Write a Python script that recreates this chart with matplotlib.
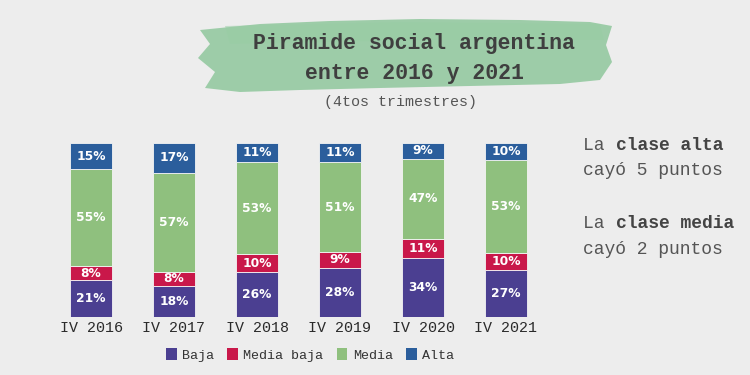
import matplotlib
matplotlib.use("Agg")
import matplotlib.pyplot as plt
from matplotlib.patches import Polygon, Patch
import numpy as np

categories = ["IV 2016", "IV 2017", "IV 2018", "IV 2019", "IV 2020", "IV 2021"]
baja = [21, 18, 26, 28, 34, 27]
media_baja = [8, 8, 10, 9, 11, 10]
media = [55, 57, 53, 51, 47, 53]
alta = [15, 17, 11, 11, 9, 10]
series_names = ["Baja", "Media baja", "Media", "Alta"]
colors = ["#4b3f91", "#c9184a", "#8fc07e", "#2b5e9c"]

mono = "Liberation Mono"
bg = "#ededed"

fig = plt.figure(figsize=(7.5, 3.75), dpi=100)
fig.patch.set_facecolor(bg)

# Brush stroke behind title
bax = fig.add_axes([0, 0, 1, 1])
bax.set_xlim(0, 750)
bax.set_ylim(375, 0)
bax.axis("off")
brush = [(200, 30), (260, 24), (330, 21), (420, 19), (520, 20), (590, 22), (612, 26),
         (606, 45), (612, 62), (600, 80), (560, 84), (470, 86), (380, 88), (300, 90),
         (240, 92), (205, 88), (215, 72), (198, 58), (210, 44)]
bax.add_patch(Polygon(brush, closed=True, facecolor="#8fc79c", edgecolor="none", alpha=0.85))
brush2 = [(225, 26), (400, 22), (600, 24), (604, 40), (420, 40), (230, 44)]
bax.add_patch(Polygon(brush2, closed=True, facecolor="#98cca4", edgecolor="none", alpha=0.5))

ax = fig.add_axes([49.5 / 750, 58 / 375, 498 / 750, 174 / 375])
ax.set_facecolor("none")
x = np.arange(len(categories))
w = 0.5
data = np.array([baja, media_baja, media, alta], dtype=float)
totals = data.sum(axis=0)
shares = data / totals * 100
bottom = np.zeros(len(categories))
for name, vals, sh, c in zip(series_names, data, shares, colors):
    ax.bar(x, sh, w, bottom=bottom, color=c, edgecolor="#f4f4f4", linewidth=0.6, label=name)
    for xi, b, v, s in zip(x, bottom, vals, sh):
        ax.text(xi, b + s / 2, f"{int(v)}%", ha="center", va="center", color="white",
                fontsize=8.8, fontweight="bold", family="DejaVu Sans")
    bottom += sh

ax.set_xlim(-0.5, len(categories) - 0.5)
ax.set_ylim(0, 100)
ax.set_xticks(x)
ax.set_xticklabels(categories, family=mono, fontsize=10.8, color="#2a2a2a")
ax.tick_params(axis="x", length=0, pad=3)
ax.set_yticks([])
for s in ax.spines.values():
    s.set_visible(False)

fig.text(414 / 750, 1 - 43 / 375, "Piramide social argentina", ha="center", va="center",
         family=mono, fontweight="bold", fontsize=15.5, color="#3f3f3f")
fig.text(414 / 750, 1 - 73 / 375, "entre 2016 y 2021", ha="center", va="center",
         family=mono, fontweight="bold", fontsize=15.5, color="#3f3f3f")
fig.text(400 / 750, 1 - 102 / 375, "(4tos trimestres)", ha="center", va="center",
         family=mono, fontsize=10.8, color="#555555")

cw = 11.1  # approx char width in px at 13pt
for ypx, word in [(146, "clase alta"), (223, "clase media")]:
    fig.text(583 / 750, 1 - ypx / 375, "La ", ha="left", va="center", family=mono,
             fontsize=13, color="#555555")
    fig.text((583 + 3 * cw) / 750, 1 - ypx / 375, word, ha="left", va="center", family=mono,
             fontsize=13, fontweight="bold", color="#444444")
fig.text(583 / 750, 1 - 171 / 375, "cayó 5 puntos", ha="left", va="center", family=mono,
         fontsize=13, color="#555555")
fig.text(583 / 750, 1 - 249 / 375, "cayó 2 puntos", ha="left", va="center", family=mono,
         fontsize=13, color="#555555")

handles = [Patch(facecolor=c, edgecolor="none") for c in colors]
leg = fig.legend(handles, series_names, loc="center", bbox_to_anchor=(310 / 750, 1 - 355 / 375),
                 ncol=4, frameon=False, prop={"family": mono, "size": 9.6},
                 handlelength=0.8, handleheight=0.9, handletextpad=0.4, columnspacing=1.0)
for t in leg.get_texts():
    t.set_color("#333333")

fig.savefig("out.png", dpi=100, facecolor=bg)
